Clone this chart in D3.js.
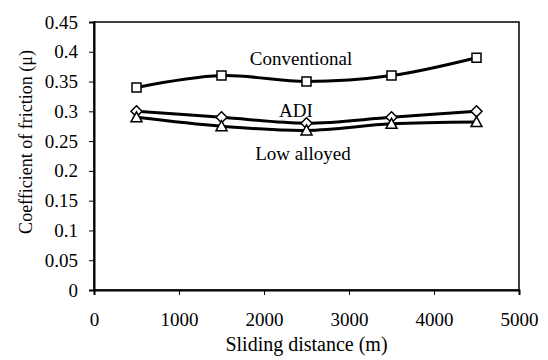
<!DOCTYPE html>
<html>
<head>
<meta charset="utf-8">
<script src="https://cdn.jsdelivr.net/npm/d3@7"></script>
<style>
  body { margin: 0; background: #fff; }
</style>
</head>
<body>
<div id="chart"></div>
<script>
var distance = [500, 1500, 2500, 3500, 4500];
var conventional = [0.34, 0.36, 0.35, 0.36, 0.39];
var adi = [0.30, 0.29, 0.28, 0.29, 0.30];
var lowAlloyed = [0.29, 0.275, 0.268, 0.279, 0.282];
var xTicks = [0, 1000, 2000, 3000, 4000, 5000];
var yTicks = [0, 0.05, 0.1, 0.15, 0.2, 0.25, 0.3, 0.35, 0.4, 0.45];

var width = 548, height = 360;
var margin = {top: 22, right: 29, bottom: 70, left: 94};
var serif = "'Liberation Serif', 'Times New Roman', 'Liberation Sans', serif";

var svg = d3.select("#chart").append("svg")
    .attr("width", width)
    .attr("height", height)
    .style("font-family", serif);

var x = d3.scaleLinear().domain([0, 5000]).range([margin.left, width - margin.right]);
var y = d3.scaleLinear().domain([0, 0.45]).range([height - margin.bottom, margin.top]);

// plot frame
svg.append("rect")
    .attr("x", x(0)).attr("y", y(0.45))
    .attr("width", x(5000) - x(0)).attr("height", y(0) - y(0.45))
    .attr("fill", "none").attr("stroke", "#000").attr("stroke-width", 1.5);

var yAxis = svg.append("g")
    .attr("transform", "translate(" + x(0) + ",0)")
    .call(d3.axisLeft(y).tickValues(yTicks).tickSize(5).tickPadding(11)
        .tickFormat(d => String(+d.toFixed(2))));
var xAxis = svg.append("g")
    .attr("transform", "translate(0," + y(0) + ")")
    .call(d3.axisBottom(x).tickValues(xTicks).tickSize(5).tickPadding(18)
        .tickFormat(d3.format("d")));

[xAxis, yAxis].forEach(function (g) {
    g.attr("font-family", null).attr("font-size", 19);
    g.selectAll("text").style("font-family", serif);
    g.select(".domain").attr("stroke-width", 2);
    g.selectAll(".tick line").attr("stroke-width", 1);
});

svg.append("text")
    .attr("x", (x(0) + x(5000)) / 2).attr("y", 351)
    .attr("text-anchor", "middle").attr("font-size", 20)
    .text("Sliding distance (m)");

svg.append("text")
    .attr("transform", "translate(32,142) rotate(-90)")
    .attr("text-anchor", "middle").attr("font-size", 18)
    .text("Coefficient of friction (\u03bc)");

// custom marker shapes, roughly Excel-like
var squareMarker = "M-4.5,-4.5H4.5V4.5H-4.5Z";
var diamondMarker = "M0,-5.5L5.5,0L0,5.5L-5.5,0Z";
var triangleMarker = "M0,-5.5L5.5,4.5H-5.5Z";

var series = [
    {name: "Conventional", values: conventional, marker: squareMarker, lx: 301, ly: 65},
    {name: "ADI", values: adi, marker: diamondMarker, lx: 296, ly: 117},
    {name: "Low alloyed", values: lowAlloyed, marker: triangleMarker, lx: 303, ly: 160}
];

var line = d3.line()
    .x((d, i) => x(distance[i]))
    .y(d => y(d))
    .curve(d3.curveCatmullRom.alpha(0.5));

series.forEach(function (s) {
    svg.append("path")
        .attr("d", line(s.values))
        .attr("fill", "none").attr("stroke", "#000").attr("stroke-width", 3);
});

series.forEach(function (s) {
    svg.selectAll(null)
        .data(s.values)
        .enter().append("path")
        .attr("transform", (d, i) => "translate(" + x(distance[i]) + "," + y(d) + ")")
        .attr("d", s.marker)
        .attr("fill", "#fff").attr("stroke", "#000").attr("stroke-width", 1.5);
    svg.append("text")
        .attr("x", s.lx).attr("y", s.ly)
        .attr("text-anchor", "middle").attr("font-size", 19)
        .text(s.name);
});
</script>
</body>
</html>
